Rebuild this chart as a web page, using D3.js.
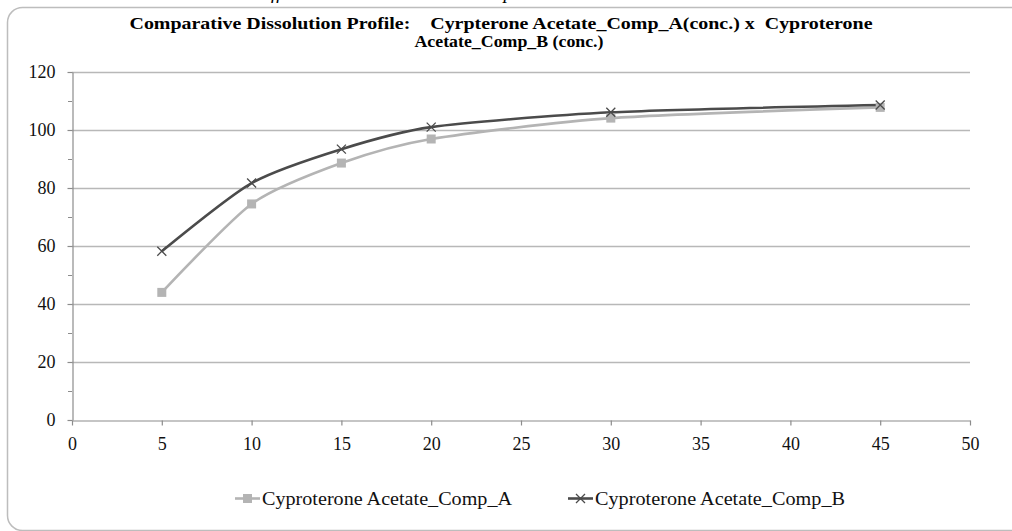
<!DOCTYPE html>
<html>
<head>
<meta charset="utf-8">
<script src="https://cdn.jsdelivr.net/npm/d3@7"></script>
<style>
  body { margin: 0; background: #fff; }
  svg, svg text { font-family: "Liberation Serif", "Times New Roman", Times, serif; }
</style>
</head>
<body>
<div id="chart"></div>
<script>
// Data
const minutes = [5, 10, 15, 20, 30, 45];
const compA = [44, 74.5, 88.6, 96.9, 104.1, 107.8];
const compB = [58.2, 81.7, 93.4, 101, 106.1, 108.6];
const seriesNames = ["Cyproterone Acetate_Comp_A", "Cyproterone Acetate_Comp_B"];
const xTicks = [0, 5, 10, 15, 20, 25, 30, 35, 40, 45, 50];
const yTicks = [0, 20, 40, 60, 80, 100, 120];
const titleLines = [
  "Comparative Dissolution Profile:    Cyrpterone Acetate_Comp_A(conc.) x  Cyproterone",
  "Acetate_Comp_B (conc.)"
];

const width = 1012, height = 531;
const serif = '"Liberation Serif", "Times New Roman", Times, serif';

const svg = d3.select("#chart")
  .append("svg")
  .attr("width", width)
  .attr("height", height);

// caption above the chart, mostly cut off
svg.append("text")
  .attr("x", 252)
  .attr("y", -1)
  .attr("font-size", 19)
  .attr("font-style", "italic")
  .attr("fill", "#000")
  .text("Difference in the dissolution comparison");

// chart frame
svg.append("rect")
  .attr("x", 7.5)
  .attr("y", 7.5)
  .attr("width", 1030)
  .attr("height", 523)
  .attr("rx", 15)
  .attr("fill", "#fff")
  .attr("stroke", "#bdbdbd")
  .attr("stroke-width", 1.5);

// Scales
const x = d3.scaleLinear().domain([0, 50]).range([72, 970]);
const y = d3.scaleLinear().domain([0, 120]).range([420, 72]);

// Title
svg.append("text")
  .attr("x", 501)
  .attr("y", 29)
  .attr("text-anchor", "middle")
  .attr("font-size", 17)
  .attr("font-weight", "bold")
  .attr("textLength", 743)
  .attr("lengthAdjust", "spacingAndGlyphs")
  .style("font-family", serif)
  .style("white-space", "pre")
  .text(titleLines[0]);
svg.append("text")
  .attr("x", 509)
  .attr("y", 47)
  .attr("text-anchor", "middle")
  .attr("font-size", 17)
  .attr("font-weight", "bold")
  .attr("textLength", 189)
  .attr("lengthAdjust", "spacingAndGlyphs")
  .style("font-family", serif)
  .text(titleLines[1]);

// Gridlines
svg.append("g")
  .selectAll("line")
  .data(yTicks.filter(d => d > 0))
  .enter()
  .append("line")
  .attr("x1", x(0))
  .attr("x2", x(50))
  .attr("y1", d => Math.round(y(d)) + 0.5)
  .attr("y2", d => Math.round(y(d)) + 0.5)
  .attr("stroke", "#b8b8b8")
  .attr("stroke-width", 1.3);

// Axes
const xAxis = svg.append("g")
  .attr("transform", `translate(0, ${Math.round(y(0)) + 0.5})`)
  .call(d3.axisBottom(x).tickValues(xTicks).tickSize(5).tickSizeOuter(0).tickPadding(12));

const yAxis = svg.append("g")
  .attr("transform", `translate(${x(0) + 0.5}, 0)`)
  .call(d3.axisLeft(y).tickValues(yTicks).tickSize(5).tickSizeOuter(0).tickPadding(12));

// minor y ticks
svg.append("g")
  .selectAll("line")
  .data(d3.range(10, 120, 20))
  .enter()
  .append("line")
  .attr("x1", x(0) - 4)
  .attr("x2", x(0))
  .attr("y1", d => Math.round(y(d)) + 0.5)
  .attr("y2", d => Math.round(y(d)) + 0.5)
  .attr("stroke", "#8c8c8c");

[xAxis, yAxis].forEach(a => {
  a.attr("font-family", null).attr("font-size", null);
  a.selectAll(".domain, line").attr("stroke", "#8c8c8c").attr("stroke-width", 1.2);
  a.selectAll("text")
    .style("font-family", serif)
    .style("font-size", "18px")
    .attr("fill", "#111");
});

// Lines
const line = d3.line()
  .x(d => x(d[0]))
  .y(d => y(d[1]))
  .curve(d3.curveCardinal.tension(0.3));

const colors = ["#b4b4b4", "#4b4b4b"];
const series = [compA, compB];

series.forEach((vals, i) => {
  const pts = minutes.map((m, j) => [m, vals[j]]);
  svg.append("path")
    .datum(pts)
    .attr("fill", "none")
    .attr("stroke", colors[i])
    .attr("stroke-width", 2.6)
    .attr("d", line);
});

// Markers A: squares
svg.append("g")
  .selectAll("rect")
  .data(minutes.map((m, j) => [m, compA[j]]))
  .enter()
  .append("rect")
  .attr("x", d => x(d[0]) - 4.5)
  .attr("y", d => y(d[1]) - 4.5)
  .attr("width", 9)
  .attr("height", 9)
  .attr("fill", colors[0]);

// Markers B: crosses
svg.append("g")
  .selectAll("path")
  .data(minutes.map((m, j) => [m, compB[j]]))
  .enter()
  .append("path")
  .attr("d", d => {
    const cx = x(d[0]), cy = y(d[1]), r = 4.5;
    return `M${cx - r},${cy - r}L${cx + r},${cy + r}M${cx - r},${cy + r}L${cx + r},${cy - r}`;
  })
  .attr("stroke", colors[1])
  .attr("stroke-width", 1.3)
  .attr("fill", "none");

// Legend
const legendPos = [{ lx: 235, tx: 262 }, { lx: 568, tx: 595 }];
const legendY = 498.5;
seriesNames.forEach((name, i) => {
  const g = svg.append("g");
  const p = legendPos[i];
  g.append("line")
    .attr("x1", p.lx)
    .attr("x2", p.lx + 25)
    .attr("y1", legendY)
    .attr("y2", legendY)
    .attr("stroke", colors[i])
    .attr("stroke-width", 2.6);
  const cx = p.lx + 12.5;
  if (i === 0) {
    g.append("rect")
      .attr("x", cx - 4.5).attr("y", legendY - 4.5)
      .attr("width", 9).attr("height", 9)
      .attr("fill", colors[0]);
  } else {
    g.append("path")
      .attr("d", `M${cx - 4.5},${legendY - 4.5}L${cx + 4.5},${legendY + 4.5}M${cx - 4.5},${legendY + 4.5}L${cx + 4.5},${legendY - 4.5}`)
      .attr("stroke", colors[1])
      .attr("stroke-width", 1.3);
  }
  g.append("text")
    .attr("x", p.tx)
    .attr("y", legendY + 6)
    .attr("font-size", 19)
    .attr("textLength", 250)
    .attr("lengthAdjust", "spacingAndGlyphs")
    .style("font-family", serif)
    .attr("fill", "#111")
    .text(name);
});
</script>
</body>
</html>
